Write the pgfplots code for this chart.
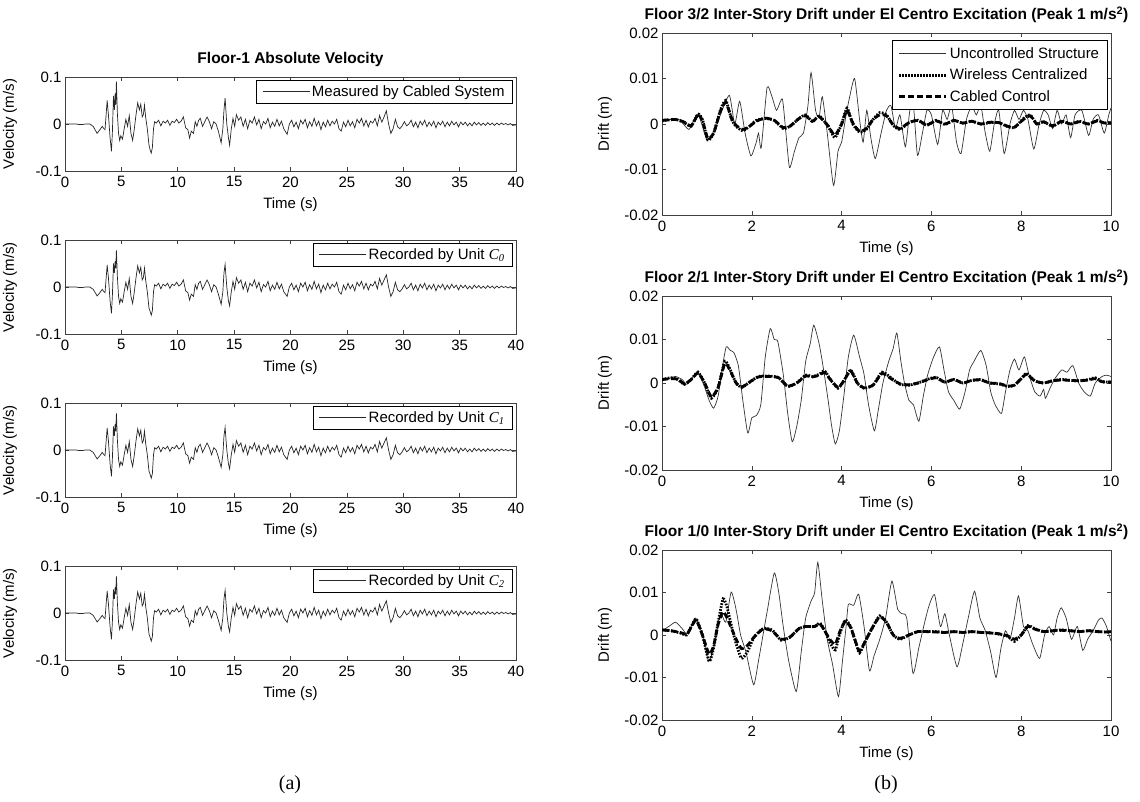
\documentclass[border=0pt]{standalone}
\usepackage{fontspec}
\setmainfont{Liberation Sans}
\newfontfamily\serifont{Liberation Serif}
\usepackage{pgfplots}
\usepackage{pgfplotstable}
\pgfplotsset{compat=1.18}

\pgfplotstableread{
t cab wl
0 0 0
0.5 0 0
1.0 0 0
1.2 -0.001 -0.001
1.6 -0.001 -0.001
1.8 0 0
2.2 0 0
2.5 -0.005 -0.005
2.85 -0.02 -0.019
3.1 -0.012 -0.012
3.3 -0.005 -0.005
3.45 -0.01 -0.01
3.55 -0.012 -0.012
3.74 0.05 0.047
3.85 0.02 0.02
4.0 -0.03 -0.03
4.12 -0.058 -0.056
4.2 -0.02 -0.02
4.3 0.06 0.05
4.38 0.03 0.03
4.45 0.065 0.055
4.5 0.04 0.04
4.56 0.09 0.078
4.65 0.02 0.02
4.75 -0.02 -0.02
4.85 -0.035 -0.035
4.95 -0.025 -0.025
5.1 -0.032 -0.032
5.25 -0.01 -0.01
5.4 0.01 0.01
5.55 -0.005 -0.005
5.7 0.018 0.018
5.85 -0.02 -0.02
6.0 -0.035 -0.035
6.15 -0.01 -0.01
6.3 0.02 0.02
6.45 0.045 0.045
6.6 0.03 0.03
6.72 0.042 0.042
6.85 0.015 0.015
6.95 0.02 0.02
7.05 0.04 0.04
7.15 0.015 0.015
7.3 -0.01 -0.01
7.45 -0.045 -0.045
7.55 -0.055 -0.052
7.65 -0.062 -0.06
7.75 -0.05 -0.05
7.85 -0.01 -0.01
7.95 0.005 0.005
8.1 0.002 0.002
8.3 0.008 0.008
8.5 -0.004 -0.004
8.7 0.006 0.006
8.9 0.002 0.002
9.1 0.008 0.008
9.3 -0.003 -0.003
9.5 0.006 0.006
9.7 0.003 0.003
9.9 0.01 0.01
10.1 0.002 0.002
10.3 0.006 0.006
10.5 0.015 0.015
10.7 -0.008 -0.008
10.9 -0.012 -0.012
11.05 -0.03 -0.028
11.2 -0.015 -0.015
11.4 -0.02 -0.02
11.55 0.005 0.005
11.7 -0.005 -0.005
11.85 0.008 0.008
12.0 0.012 0.012
12.2 -0.005 -0.005
12.4 0.005 0.005
12.6 0.015 0.015
12.8 0.005 0.005
13.0 -0.01 -0.01
13.2 0.005 0.005
13.4 0.0 0.0
13.6 -0.015 -0.015
13.85 -0.04 -0.037
14.0 -0.01 -0.01
14.1 0.03 0.03
14.2 0.055 0.048
14.35 0.0 0.0
14.5 -0.03 -0.03
14.6 -0.045 -0.04
14.75 -0.01 -0.01
14.9 0.012 0.012
15.05 -0.005 -0.005
15.2 0.02 0.02
15.4 0.008 0.008
15.6 0.015 0.015
15.8 -0.005 -0.005
16.0 0.01 0.01
16.2 -0.01 -0.01
16.4 0.008 0.008
16.6 0.002 0.002
16.8 0.015 0.015
17.0 -0.002 -0.002
17.2 0.01 0.01
17.4 -0.01 -0.01
17.6 0.005 0.005
17.8 0.0 0.0
18.0 0.012 0.012
18.2 -0.008 -0.008
18.4 0.004 0.004
18.6 -0.005 -0.005
18.8 0.01 0.01
19.0 -0.004 -0.004
19.2 0.006 0.006
19.4 -0.01 -0.01
19.7 -0.022 -0.02
19.9 0.0 0.0
20.1 0.008 0.008
20.3 -0.006 -0.006
20.5 0.004 0.004
20.7 -0.01 -0.01
20.9 0.008 0.008
21.1 0.0 0.0
21.3 0.01 0.01
21.5 -0.008 -0.008
21.7 0.005 0.005
21.9 -0.005 -0.005
22.1 0.012 0.012
22.3 -0.004 -0.004
22.5 0.006 0.006
22.7 -0.012 -0.012
22.9 0.004 0.004
23.1 -0.006 -0.006
23.3 0.008 0.008
23.5 -0.004 -0.004
23.7 0.006 0.006
23.9 0.0 0.0
24.1 0.01 0.01
24.3 -0.01 -0.01
24.5 -0.015 -0.015
24.7 0.004 0.004
24.9 -0.006 -0.006
25.1 0.008 0.008
25.3 -0.004 -0.004
25.5 0.005 0.005
25.7 -0.008 -0.008
25.9 0.01 0.01
26.1 0.002 0.002
26.3 0.012 0.012
26.5 -0.004 -0.004
26.7 0.008 0.008
26.9 -0.006 -0.006
27.1 0.006 0.006
27.3 0.002 0.002
27.5 0.012 0.012
27.7 -0.004 -0.004
27.9 0.018 0.018
28.1 0.004 0.004
28.3 0.015 0.015
28.5 0.028 0.026
28.7 0.0 0.0
28.9 -0.02 -0.02
29.1 -0.01 -0.01
29.3 0.01 0.01
29.5 -0.006 -0.006
29.7 -0.01 -0.01
29.9 -0.004 -0.004
30.1 0.005 0.005
30.3 -0.004 -0.004
30.5 0.0 0.0
30.7 0.008 0.008
30.9 -0.006 -0.006
31.1 0.004 0.004
31.3 -0.008 -0.008
31.5 0.006 0.006
31.7 -0.002 -0.002
31.9 0.008 0.008
32.1 -0.006 -0.006
32.3 0.004 0.004
32.5 -0.004 -0.004
32.7 0.006 0.006
32.9 -0.008 -0.008
33.1 0.004 0.004
33.3 -0.002 -0.002
33.5 0.006 0.006
33.7 -0.006 -0.006
33.9 0.004 0.004
34.1 -0.004 -0.004
34.3 0.006 0.006
34.5 -0.002 -0.002
34.7 0.004 0.004
34.9 -0.006 -0.006
35.1 0.004 0.004
35.3 -0.002 -0.002
35.5 0.004 0.004
35.7 -0.004 -0.004
35.9 0.002 0.002
36.1 -0.004 -0.004
36.3 0.004 0.004
36.5 -0.002 -0.002
36.7 0.003 0.003
36.9 -0.003 -0.003
37.1 0.002 0.002
37.3 -0.003 -0.003
37.5 0.003 0.003
37.7 -0.002 -0.002
37.9 0.002 0.002
38.1 -0.003 -0.003
38.3 0.002 0.002
38.5 -0.002 -0.002
38.7 0.002 0.002
38.9 -0.001 -0.001
39.1 0.001 0.001
39.3 -0.002 -0.002
39.5 0.001 0.001
39.7 -0.003 -0.003
40.0 -0.002 -0.002
}\velo

\pgfplotstableread{
t u
0 0.0008
0.2 0.001
0.4 0.0009
0.6 -0.0012
0.8 0.0022
1.0 -0.0035
1.15 -0.002
1.3 0.002
1.5 0.0063
1.62 0.0
1.73 0.005
1.85 -0.002
1.98 -0.007
2.1 -0.004
2.15 -0.002
2.21 -0.0052
2.34 0.008
2.45 0.006
2.55 0.003
2.68 0.0055
2.76 -0.002
2.84 -0.0096
2.95 -0.006
3.05 -0.003
3.15 -0.002
3.25 0.004
3.32 0.0113
3.42 0.003
3.5 0.0015
3.57 0.006
3.68 -0.002
3.82 -0.0135
3.92 -0.006
4.0 -0.004
4.1 0.002
4.18 0.006
4.29 0.01
4.4 0.001
4.48 -0.004
4.56 0.003
4.65 -0.003
4.75 -0.0076
4.88 -0.002
5.0 0.003
5.1 0.004
5.2 -0.001
5.3 0.002
5.42 -0.005
5.52 0.003
5.6 0.004
5.69 -0.0069
5.8 -0.002
5.9 0.003
6.0 0.002
6.14 -0.0045
6.25 0.003
6.35 0.001
6.45 0.004
6.56 -0.004
6.66 -0.0065
6.78 0.001
6.9 0.004
7.0 0.002
7.1 0.004
7.2 -0.002
7.3 -0.006
7.4 0.0
7.5 0.003
7.62 -0.0065
7.75 0.0
7.85 0.003
7.95 0.001
8.05 0.003
8.15 0.001
8.28 -0.0055
8.4 0.0
8.5 0.003
8.6 0.002
8.7 -0.001
8.8 0.003
8.9 0.0
9.0 0.002
9.1 -0.003
9.2 0.002
9.35 0.003
9.5 -0.0025
9.6 0.001
9.72 0.002
9.85 -0.002
9.95 0.002
10.0 0.0035
}\rau

\pgfplotstableread{
t w c
0 0.0007 0.0008
0.3 0.001 0.001
0.5 0.0003 0.0004
0.65 -0.0005 -0.0004
0.8 0.0022 0.002
0.9 0.001 0.0008
1.02 -0.0035 -0.0032
1.15 -0.002 -0.002
1.3 0.003 0.0028
1.42 0.0052 0.0048
1.55 0.001 0.0012
1.65 -0.0005 -0.0003
1.8 -0.0015 -0.0012
1.95 -0.0005 -0.0005
2.1 0.0008 0.0006
2.3 0.0012 0.0013
2.5 0.0008 0.0008
2.7 -0.001 -0.0008
2.85 -0.0005 -0.0005
3.05 0.0012 0.0012
3.2 0.002 0.0018
3.35 0.0005 0.0006
3.5 0.0018 0.0016
3.7 -0.0005 -0.0004
3.85 -0.003 -0.0025
4.0 0.0 0.0
4.12 0.0035 0.003
4.25 0.0 0.0002
4.4 -0.0018 -0.0016
4.55 -0.0012 -0.001
4.7 0.001 0.001
4.85 0.0025 0.002
5.0 0.002 0.0018
5.15 -0.0003 -0.0002
5.3 -0.0012 -0.001
5.5 0.0003 0.0003
5.7 0.0008 0.0008
5.9 -0.0003 -0.0002
6.1 0.0008 0.0007
6.3 -0.0001 0.0
6.5 0.0008 0.0008
6.7 0.0002 0.0002
6.9 0.0006 0.0006
7.1 0.0 0.0
7.3 0.0003 0.0004
7.5 0.0003 0.0003
7.7 -0.0006 -0.0005
7.85 -0.0008 -0.0007
8.05 0.0012 0.001
8.2 0.002 0.0018
8.35 0.0 0.0
8.5 0.0005 0.0005
8.7 -0.0005 -0.0004
8.9 0.0006 0.0006
9.1 0.0 0.0
9.3 0.0006 0.0005
9.5 0.0 0.0
9.7 0.0008 0.0007
9.85 0.0002 0.0002
10.0 0.0004 0.0003
}\rac

\pgfplotstableread{
t u
0 0.0005
0.15 0.001
0.3 0.0015
0.45 0.0008
0.55 -0.0003
0.7 0.0015
0.82 0.0022
0.95 -0.001
1.05 -0.004
1.15 -0.0058
1.25 -0.003
1.35 0.004
1.43 0.0083
1.52 0.0075
1.6 0.007
1.7 0.004
1.8 -0.004
1.91 -0.0115
2.0 -0.008
2.1 -0.0075
2.2 -0.005
2.3 0.006
2.41 0.0125
2.5 0.01
2.58 0.0095
2.7 0.002
2.8 -0.007
2.9 -0.0135
3.0 -0.01
3.1 -0.004
3.2 0.005
3.3 0.009
3.38 0.0133
3.5 0.009
3.6 0.003
3.7 -0.004
3.78 -0.01
3.86 -0.014
3.95 -0.011
4.05 -0.003
4.15 0.006
4.27 0.011
4.4 0.006
4.5 0.002
4.6 -0.005
4.73 -0.011
4.82 -0.006
4.92 0.0
5.05 0.005
5.15 0.008
5.23 0.0115
5.32 0.005
5.4 0.0
5.5 -0.004
5.6 -0.005
5.72 -0.0088
5.82 -0.003
5.92 0.002
6.05 0.006
6.18 0.0083
6.28 0.003
6.38 -0.002
6.5 -0.004
6.63 -0.006
6.75 -0.002
6.85 0.003
6.95 0.005
7.1 0.0075
7.22 0.004
7.32 -0.002
7.42 -0.005
7.56 -0.007
7.65 -0.002
7.75 0.003
7.85 0.0055
7.95 0.003
8.07 0.006
8.17 0.002
8.3 -0.002
8.42 -0.003
8.5 -0.0015
8.54 -0.0035
8.65 -0.001
8.75 0.001
8.9 0.003
9.02 0.0025
9.15 0.004
9.28 0.0
9.4 -0.002
9.54 -0.003
9.65 0.0
9.8 0.0015
9.9 0.0018
10.0 0.0015
}\rbu

\pgfplotstableread{
t w c
0 0.0008 0.0008
0.2 0.0012 0.001
0.35 0.0008 0.0009
0.5 -0.0003 -0.0002
0.65 0.0008 0.0008
0.8 0.0025 0.0023
0.95 0.0 0.0
1.1 -0.0035 -0.0032
1.25 -0.001 -0.001
1.4 0.005 0.0045
1.52 0.003 0.0028
1.65 0.0 0.0
1.78 -0.001 -0.0009
1.95 0.0002 0.0002
2.15 0.0015 0.0014
2.4 0.0016 0.0015
2.6 0.0012 0.0012
2.8 -0.0008 -0.0007
3.0 0.0 0.0
3.2 0.0018 0.0016
3.35 0.0015 0.0014
3.5 0.002 0.0018
3.62 0.0028 0.0024
3.75 0.0008 0.0008
3.92 -0.0012 -0.001
4.05 0.0005 0.0005
4.2 0.003 0.0028
4.35 0.0 0.0
4.5 -0.0012 -0.0011
4.7 -0.0005 -0.0005
4.9 0.0025 0.0022
5.1 0.0012 0.001
5.3 -0.0003 -0.0002
5.5 -0.0005 -0.0004
5.7 0.0 0.0
5.9 0.0008 0.0007
6.1 0.0013 0.0012
6.3 0.0002 0.0002
6.5 0.0008 0.0008
6.7 0.0 0.0
6.9 0.0006 0.0006
7.1 0.0008 0.0007
7.3 0.0 0.0
7.5 -0.0002 -0.0001
7.7 -0.0008 -0.0007
7.85 -0.0005 -0.0005
8.0 0.001 0.001
8.12 0.0022 0.002
8.3 0.0005 0.0005
8.5 0.0 0.0
8.7 0.0005 0.0005
8.9 0.0008 0.0007
9.1 0.0006 0.0006
9.3 0.0005 0.0005
9.5 0.0008 0.0007
9.65 0.0012 0.001
9.8 0.0003 0.0003
10.0 0.0002 0.0002
}\rbc

\pgfplotstableread{
t u
0 0.001
0.15 0.002
0.3 0.003
0.45 0.0015
0.55 0.0002
0.65 0.002
0.75 0.004
0.9 0.0
1.04 -0.0062
1.15 -0.003
1.3 0.005
1.42 0.003
1.54 0.0101
1.65 0.006
1.75 0.0
1.87 -0.004
2.04 -0.0117
2.15 -0.006
2.25 0.0
2.35 0.006
2.5 0.0146
2.6 0.01
2.7 0.002
2.82 -0.006
2.99 -0.0133
3.1 -0.004
3.2 0.004
3.32 0.008
3.4 0.01
3.47 0.0171
3.57 0.008
3.68 -0.001
3.8 -0.007
3.93 -0.0145
4.02 -0.006
4.1 0.002
4.15 0.0072
4.27 0.007
4.38 0.0096
4.5 0.002
4.62 -0.0084
4.72 -0.005
4.85 -0.001
4.98 0.004
5.12 0.0127
5.25 0.006
5.35 0.005
5.45 0.004
5.59 -0.009
5.72 -0.003
5.85 0.003
5.95 0.007
6.07 0.0095
6.2 0.002
6.3 0.005
6.4 0.0
6.57 -0.0075
6.7 -0.002
6.82 0.004
6.96 0.0103
7.08 0.004
7.2 0.001
7.32 -0.004
7.44 -0.01
7.55 -0.003
7.65 0.001
7.75 -0.001
7.85 0.004
7.94 0.0092
8.05 0.002
8.15 0.001
8.25 -0.002
8.41 -0.0055
8.52 0.0
8.62 0.002
8.72 0.0
8.8 0.004
8.89 0.0064
9.0 0.004
9.12 -0.001
9.25 0.002
9.37 -0.0036
9.48 -0.001
9.6 0.001
9.72 0.0035
9.8 0.004
9.9 0.002
10.0 -0.0015
}\rcu

\pgfplotstableread{
t w c
0 0.0012 0.0012
0.2 0.001 0.001
0.4 0.0005 0.0006
0.55 0.0 0.0002
0.65 0.002 0.0018
0.76 0.0038 0.0035
0.9 0.0 0.0
1.05 -0.0062 -0.0045
1.15 -0.003 -0.0025
1.25 0.003 0.0025
1.36 0.0085 0.0055
1.45 0.0065 0.004
1.55 0.002 0.0015
1.65 -0.002 -0.001
1.77 -0.0055 -0.0032
1.9 -0.004 -0.0025
2.05 -0.0005 -0.0005
2.25 0.0015 0.0014
2.45 0.0012 0.001
2.65 -0.0012 -0.001
2.85 -0.0005 -0.0005
3.05 0.0015 0.0015
3.2 0.002 0.002
3.4 0.002 0.002
3.52 0.0028 0.0026
3.65 0.0005 0.0005
3.75 -0.002 -0.0012
3.86 -0.0035 -0.0022
3.95 0.0 0.0005
4.08 0.0035 0.0032
4.2 0.002 0.0018
4.32 -0.002 -0.0018
4.4 -0.0042 -0.0038
4.55 -0.001 -0.001
4.7 0.002 0.002
4.85 0.0045 0.0043
5.0 0.003 0.003
5.15 0.0 0.0
5.3 -0.001 -0.0008
5.5 0.0 0.0
5.7 0.0008 0.0008
5.9 0.0008 0.0008
6.1 0.0008 0.0007
6.3 0.0006 0.0006
6.5 0.0008 0.0008
6.7 0.0006 0.0006
6.9 0.0008 0.0008
7.1 0.0006 0.0006
7.3 0.0005 0.0005
7.5 0.0002 0.0003
7.7 -0.0003 -0.0002
7.85 -0.0015 -0.001
8.0 0.0 0.0
8.15 0.0022 0.002
8.3 0.0015 0.0014
8.5 0.0008 0.0008
8.7 0.001 0.001
8.9 0.0012 0.0011
9.1 0.001 0.001
9.3 0.0008 0.0008
9.5 0.001 0.001
9.7 0.0008 0.0008
9.9 0.0007 0.0007
10.0 0.0008 0.0008
}\rcc

\newcommand{\fs}{\fontsize{15}{17}\selectfont}
\pgfplotsset{
  base/.style={scale only axis, anchor=south west,
    font=\fs, tick label style={font=\fs},
    /pgf/number format/assume math mode=true,
    scaled x ticks=false, scaled y ticks=false,
    tick align=inside, major tick length=4pt,
    axis line style={black!75, line width=0.6pt},
    every tick/.style={black!75, line width=0.6pt},
    title style={font=\bfseries\fontsize{15.5}{17}\selectfont, yshift=1pt},
    xticklabel style={yshift=-2pt},
    xlabel style={at={(axis description cs:0.5,0)}, anchor=center, yshift=-34pt},
    legend cell align=left,
    legend style={draw=black, line width=0.6pt, fill=white, font=\fs,
      inner xsep=6pt, inner ysep=3pt},
    legend image code/.code={\draw[#1] (0pt,0pt) -- (47pt,0pt);},
  },
  vel/.style={base, width=451pt, height=94pt, xmin=0, xmax=40, ymin=-0.1, ymax=0.1,
    xtick={0,5,...,40}, ytick={-0.1,0,0.1}, yticklabels={-0.1,0,0.1},
    xlabel={Time (s)}, ylabel={Velocity (m/s)},
    ylabel style={at={(axis description cs:-0.122,0.5)}, anchor=center},
    legend style={at={(0.993,0.965)}, anchor=north east}},
  drift/.style={base, width=449pt, xmin=0, xmax=10, ymin=-0.02, ymax=0.02,
    xtick={0,2,...,10}, ytick={-0.02,-0.01,0,0.01,0.02},
    yticklabels={-0.02,-0.01,0,0.01,0.02},
    xlabel={Time (s)}, ylabel={Drift (m)},
    ylabel style={at={(axis description cs:-0.127,0.5)}, anchor=center}},
  uline/.style={black!80, line width=0.7pt, smooth, tension=0.35},
  wline/.style={black, line width=2.8pt, dash pattern=on 1.6pt off 1.4pt, smooth, tension=0.35},
  cline/.style={black, line width=2.8pt, dash pattern=on 6pt off 3pt, smooth, tension=0.35},
}

\begin{document}
\begin{tikzpicture}[x=1pt,y=1pt]
\useasboundingbox (0,0) rectangle (1140,801);

% ---- left column
\begin{axis}[vel, at={(65pt,630pt)}, title={Floor-1 Absolute Velocity}]
\addplot[black!85, line width=0.7pt] table[x=t,y=cab] {\velo};
\addlegendentry{Measured by Cabled System}
\end{axis}
\begin{axis}[vel, at={(65pt,467pt)}]
\addplot[black!85, line width=0.7pt] table[x=t,y=wl] {\velo};
\addlegendentry{Recorded by Unit {\serifont\itshape C\textsubscript{0}}}
\end{axis}
\begin{axis}[vel, at={(65pt,304pt)}]
\addplot[black!85, line width=0.7pt] table[x=t,y=wl] {\velo};
\addlegendentry{Recorded by Unit {\serifont\itshape C\textsubscript{1}}}
\end{axis}
\begin{axis}[vel, at={(65pt,141pt)}]
\addplot[black!85, line width=0.7pt] table[x=t,y=wl] {\velo};
\addlegendentry{Recorded by Unit {\serifont\itshape C\textsubscript{2}}}
\end{axis}

% ---- right column
\begin{axis}[drift, height=182pt, at={(662pt,586pt)},
  title={Floor 3/2 Inter-Story Drift under El Centro Excitation (Peak 1 m/s\textsuperscript{2})},
  legend style={at={(0.992,0.96)}, anchor=north east, row sep=5pt, inner ysep=5pt}]
\addplot[uline] table[x=t,y=u] {\rau};
\addlegendentry{Uncontrolled Structure}
\addplot[wline] table[x=t,y=w] {\rac};
\addlegendentry{Wireless Centralized}
\addplot[cline] table[x=t,y=c] {\rac};
\addlegendentry{Cabled Control}
\end{axis}
\begin{axis}[drift, height=174pt, at={(662pt,331pt)},
  title={Floor 2/1 Inter-Story Drift under El Centro Excitation (Peak 1 m/s\textsuperscript{2})}]
\addplot[uline] table[x=t,y=u] {\rbu};
\addplot[wline] table[x=t,y=w] {\rbc};
\addplot[cline] table[x=t,y=c] {\rbc};
\end{axis}
\begin{axis}[drift, height=170pt, at={(662pt,81pt)},
  title={Floor 1/0 Inter-Story Drift under El Centro Excitation (Peak 1 m/s\textsuperscript{2})}]
\addplot[uline] table[x=t,y=u] {\rcu};
\addplot[wline] table[x=t,y=w] {\rcc};
\addplot[cline] table[x=t,y=c] {\rcc};
\end{axis}

\node[font=\serifont\fontsize{20}{22}\selectfont] at (290,16) {(a)};
\node[font=\serifont\fontsize{20}{22}\selectfont] at (886,16) {(b)};
\end{tikzpicture}
\end{document}
